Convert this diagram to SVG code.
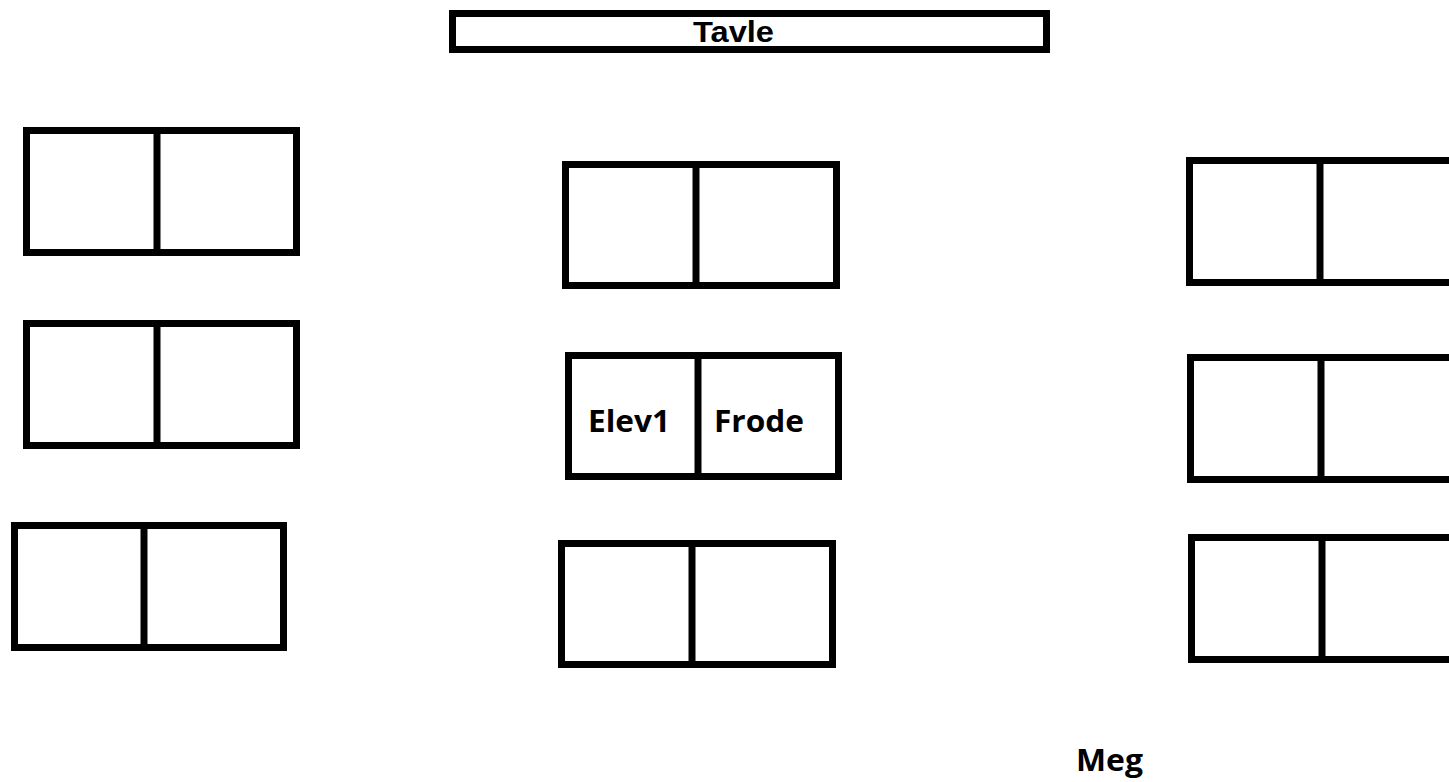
<svg xmlns="http://www.w3.org/2000/svg" width="1449" height="782" viewBox="0 0 1449 782">
<style>
.box{fill:none;stroke:#000;stroke-width:7}
.div{stroke:#000;stroke-width:7}
.lbl{font-family:"Open Sans","DejaVu Sans",sans-serif;font-weight:bold;font-size:31px;fill:#000}
.tav{font-family:"Liberation Sans",Arial,sans-serif;font-weight:bold;font-size:29px;fill:#000}
</style>
<rect width="1449" height="782" fill="#fff"/>
<g id="tavle">
<rect class="box" x="452.5" y="13.5" width="594" height="36"/>
<text class="tav" x="693" y="42" textLength="81" lengthAdjust="spacingAndGlyphs">Tavle</text>
</g>
<g id="desk-left-1">
<rect class="box" x="26.5" y="130.5" width="270" height="122"/>
<line class="div" x1="157" y1="130.5" x2="157" y2="252.5"/>
</g>
<g id="desk-left-2">
<rect class="box" x="26.5" y="323.5" width="270" height="122"/>
<line class="div" x1="157" y1="323.5" x2="157" y2="445.5"/>
</g>
<g id="desk-left-3">
<rect class="box" x="14.5" y="525.5" width="269" height="122"/>
<line class="div" x1="144" y1="525.5" x2="144" y2="647.5"/>
</g>
<g id="desk-center-1">
<rect class="box" x="565.5" y="164.5" width="271" height="121"/>
<line class="div" x1="696" y1="164.5" x2="696" y2="285.5"/>
</g>
<g id="desk-center-2">
<rect class="box" x="568.5" y="355.5" width="270" height="121"/>
<line class="div" x1="698" y1="355.5" x2="698" y2="476.5"/>
<text class="lbl" x="588" y="432" textLength="82" lengthAdjust="spacingAndGlyphs">Elev1</text>
<text class="lbl" x="714" y="432" textLength="90" lengthAdjust="spacingAndGlyphs">Frode</text>
</g>
<g id="desk-center-3">
<rect class="box" x="561.5" y="543.5" width="271" height="121"/>
<line class="div" x1="692" y1="543.5" x2="692" y2="664.5"/>
</g>
<g id="desk-right-1">
<rect class="box" x="1189.5" y="160.5" width="300" height="122"/>
<line class="div" x1="1320" y1="160.5" x2="1320" y2="282.5"/>
</g>
<g id="desk-right-2">
<rect class="box" x="1190.5" y="357.5" width="300" height="122"/>
<line class="div" x1="1321" y1="357.5" x2="1321" y2="479.5"/>
</g>
<g id="desk-right-3">
<rect class="box" x="1191.5" y="537.5" width="300" height="122"/>
<line class="div" x1="1322" y1="537.5" x2="1322" y2="659.5"/>
</g>
<g id="meg">
<text class="lbl" x="1076" y="771" textLength="67" lengthAdjust="spacingAndGlyphs">Meg</text>
</g>
<g id="connectors"></g>
</svg>
